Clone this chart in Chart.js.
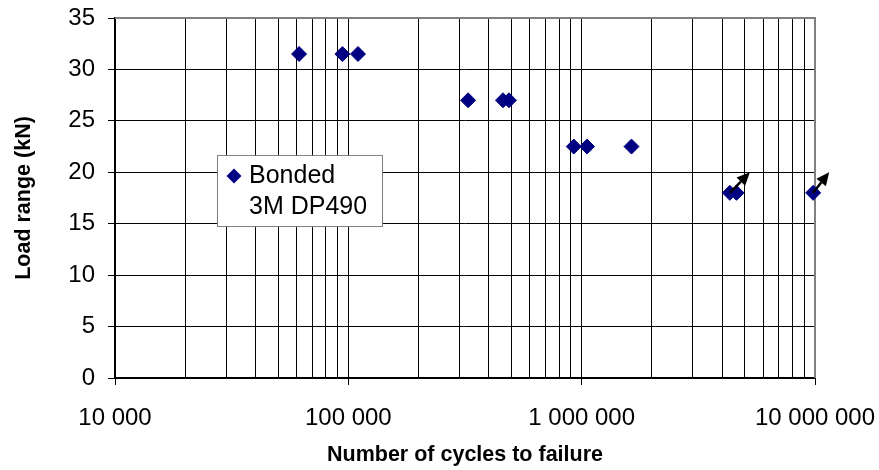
<!DOCTYPE html>
<html>
<head>
<meta charset="utf-8">
<script src="https://cdn.jsdelivr.net/npm/chart.js@4/dist/chart.umd.min.js"></script>
<style>
  html, body { margin: 0; padding: 0; background: #fff; }
  #wrap { width: 879px; height: 470px; }
</style>
</head>
<body>
<div id="wrap"><canvas id="c" width="879" height="470"></canvas></div>
<script>
// Fatigue test results: bonded joints, 3M DP490 adhesive
const cycles    = [61500, 94300, 110000, 326000, 460000, 488000, 925000, 1055000, 1635000, 4315000, 4610000, 9820000];
const loadRange = [31.5, 31.5, 31.5, 27, 27, 27, 22.5, 22.5, 22.5, 18, 18, 18];

// Run-outs (tests stopped without failure): arrow from the point towards these values
const runoutIndex     = [9, 11];
const runoutTipCycles = [5260000, 11500000];
const runoutTipLoad   = [20, 20];

// Axis ticks
const decadeValues = [10000, 100000, 1000000, 10000000];
const decadeLabels = ['10 000', '100 000', '1 000 000', '10 000 000'];
const minorSteps   = [2, 3, 4, 5, 6, 7, 8, 9];
const loadTicks    = [0, 5, 10, 15, 20, 25, 30, 35];

const legendLines = ['Bonded', '3M DP490'];

const FONT = '"Liberation Sans", Arial, Helvetica, sans-serif';
const MARK = '#000080';

const gridCycles = [];
decadeValues.forEach((d, i) => {
  gridCycles.push(d);
  if (i < decadeValues.length - 1) minorSteps.forEach(m => gridCycles.push(d * m));
});

const points = cycles.map((c, i) => ({ x: c, y: loadRange[i] }));

// Let the layout padding alone decide the plot area
function noLabelPadding(scale) {
  scale.paddingLeft = scale.paddingRight = scale.paddingTop = scale.paddingBottom = 0;
}

// Gray plot-area frame on the top and right edges
const frame = {
  id: 'frame',
  beforeDatasetsDraw(chart) {
    const { ctx, chartArea: a } = chart;
    ctx.save();
    ctx.strokeStyle = '#808080';
    ctx.lineWidth = 2;
    ctx.beginPath();
    ctx.moveTo(a.left, a.top);
    ctx.lineTo(a.right, a.top);
    ctx.lineTo(a.right, a.bottom);
    ctx.stroke();
    ctx.restore();
  }
};

// Run-out arrows and the boxed legend
const annotate = {
  id: 'annotate',
  afterDatasetsDraw(chart, args, opts) {
    const { ctx } = chart;
    const xs = chart.scales.x, ys = chart.scales.y;
    const meta = chart.getDatasetMeta(0);
    ctx.save();
    ctx.strokeStyle = '#000';
    ctx.fillStyle = '#000';
    ctx.lineWidth = 2.5;
    runoutIndex.forEach((idx, k) => {
      const p = meta.data[idx];
      const x0 = p.x, y0 = p.y;
      const x1 = xs.getPixelForValue(runoutTipCycles[k]);
      const y1 = ys.getPixelForValue(runoutTipLoad[k]);
      const ang = Math.atan2(y1 - y0, x1 - x0);
      const head = 13, half = 6;
      const bx = x1 - Math.cos(ang) * head, by = y1 - Math.sin(ang) * head;
      ctx.beginPath();
      ctx.moveTo(x0, y0);
      ctx.lineTo(bx, by);
      ctx.stroke();
      ctx.beginPath();
      ctx.moveTo(x1, y1);
      ctx.lineTo(bx + Math.sin(ang) * half, by - Math.cos(ang) * half);
      ctx.lineTo(bx - Math.sin(ang) * half, by + Math.cos(ang) * half);
      ctx.closePath();
      ctx.fill();
    });

    // legend box
    const L = opts;
    ctx.fillStyle = '#fff';
    ctx.fillRect(L.x, L.y, L.w, L.h);
    ctx.strokeStyle = '#808080';
    ctx.lineWidth = 1;
    ctx.strokeRect(L.x + 0.5, L.y + 0.5, L.w, L.h);
    ctx.fillStyle = MARK;
    ctx.beginPath();
    ctx.moveTo(L.markX - 7.5, L.markY);
    ctx.lineTo(L.markX, L.markY - 7.5);
    ctx.lineTo(L.markX + 7.5, L.markY);
    ctx.lineTo(L.markX, L.markY + 7.5);
    ctx.closePath();
    ctx.fill();
    ctx.fillStyle = '#000';
    ctx.font = '25px ' + FONT;
    ctx.textBaseline = 'alphabetic';
    ctx.textAlign = 'left';
    legendLines.forEach((t, i) => ctx.fillText(t, L.textX, L.base + i * L.lineGap));
    ctx.restore();
  }
};

new Chart(document.getElementById('c'), {
  type: 'scatter',
  data: {
    datasets: [{
      label: legendLines.join(' '),
      data: points,
      pointStyle: 'rectRot',
      pointRadius: 7.5,
      pointHoverRadius: 7.5,
      pointBackgroundColor: MARK,
      pointBorderColor: MARK,
      pointBorderWidth: 1,
      clip: false
    }]
  },
  options: {
    responsive: false,
    animation: false,
    devicePixelRatio: 1,
    layout: { padding: { top: 18, right: 64, bottom: 0, left: 0 } },
    plugins: {
      legend: { display: false },
      tooltip: { enabled: false },
      annotate: { x: 217, y: 155, w: 165, h: 71, markX: 234, markY: 176, textX: 249, base: 183, lineGap: 31 }
    },
    scales: {
      x: {
        type: 'logarithmic',
        min: decadeValues[0],
        max: decadeValues[decadeValues.length - 1],
        afterBuildTicks(scale) { scale.ticks = gridCycles.map(v => ({ value: v })); },
        afterFit(scale) { scale.height = 92; noLabelPadding(scale); },
        ticks: {
          autoSkip: false, maxRotation: 0, minRotation: 0, padding: 19, color: '#000',
          font: { family: FONT, size: 24 },
          callback(v) { const i = decadeValues.indexOf(v); return i >= 0 ? decadeLabels[i] : ''; }
        },
        grid: {
          color: '#000', lineWidth: 1, tickLength: 7,
          tickColor: (c) => (c.tick && decadeValues.includes(c.tick.value)) ? '#000' : 'rgba(0,0,0,0)'
        },
        border: { color: '#000', width: 2 },
        title: {
          display: true, text: 'Number of cycles to failure', color: '#000',
          font: { family: FONT, size: 21.5, weight: 'bold' }, padding: { top: 0, bottom: 2 }
        }
      },
      y: {
        min: loadTicks[0],
        max: loadTicks[loadTicks.length - 1],
        afterBuildTicks(scale) { scale.ticks = loadTicks.map(v => ({ value: v })); },
        afterFit(scale) { scale.width = 115; noLabelPadding(scale); },
        ticks: { padding: 13, color: '#000', font: { family: FONT, size: 24 } },
        grid: { color: '#000', lineWidth: 1, tickLength: 7, tickColor: '#000' },
        border: { color: '#000', width: 2 },
        title: {
          display: true, text: 'Load range (kN)', color: '#000',
          font: { family: FONT, size: 21.5, weight: 'bold' }, padding: { top: 11, bottom: 0 }
        }
      }
    }
  },
  plugins: [frame, annotate]
});
</script>
</body>
</html>
